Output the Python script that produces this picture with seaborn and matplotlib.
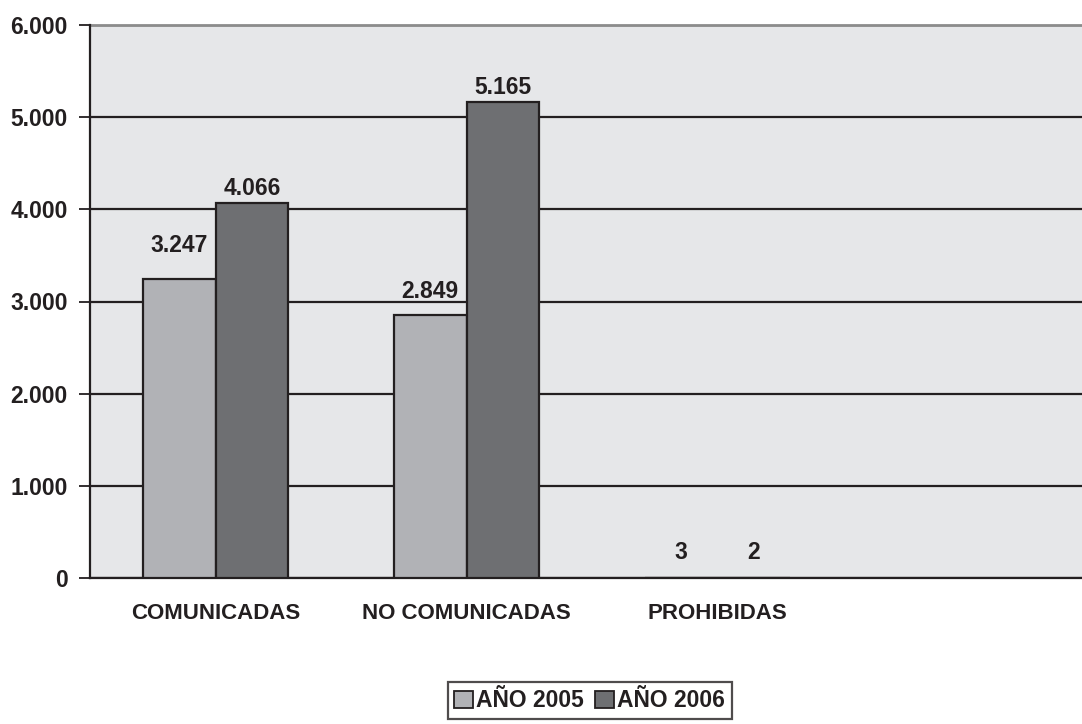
import numpy as np
import pandas as pd
import matplotlib
matplotlib.use("Agg")
import matplotlib.pyplot as plt
import matplotlib.ticker as mticker
import seaborn as sbn

# datos
categorias = ["COMUNICADAS", "NO COMUNICADAS", "PROHIBIDAS"]
anios = ["AÑO 2005", "AÑO 2006"]
valores_2005 = [3247, 2849, 3]
valores_2006 = [4066, 5165, 2]

df = pd.DataFrame({
    "categoria": categorias * 2,
    "anio": [anios[0]] * 3 + [anios[1]] * 3,
    "valor": valores_2005 + valores_2006,
})

colores = ["#b1b2b6", "#6e6f72"]

sbn.set_style("white")
plt.rcParams["font.family"] = ["Liberation Sans", "DejaVu Sans"]
plt.rcParams["font.weight"] = "bold"

fig = plt.figure(figsize=(10.82, 7.24), dpi=100)
ax = fig.add_axes([90 / 1082, 146 / 724, 1004 / 1082, 553 / 724])
ax.set_facecolor("#e6e7e9")

sbn.barplot(data=df, x="categoria", y="valor", hue="anio", order=categorias,
            hue_order=anios, palette=colores, width=0.58, saturation=1,
            edgecolor="#231f20", linewidth=1.6, ax=ax, zorder=3)

ax.set_xlim(-0.5, 3.5)
ax.set_ylim(0, 6000)
ax.yaxis.set_major_locator(mticker.MultipleLocator(1000))
ax.yaxis.set_major_formatter(mticker.FuncFormatter(lambda v, p: f"{int(v):,}".replace(",", ".")))
ax.grid(axis="y", color="#231f20", linewidth=1.6, zorder=1)
ax.set_axisbelow(True)

# etiquetas de valor
desplaz = [[22, 3], [12, 3], [14, 14]]
for j, cont in enumerate(ax.containers):
    for i, barra in enumerate(cont):
        v = barra.get_height()
        ax.annotate(f"{int(v):,}".replace(",", "."),
                    (barra.get_x() + barra.get_width() / 2, v),
                    xytext=(0, desplaz[i][j]), textcoords="offset pixels",
                    ha="center", va="bottom", fontsize=16.5, fontweight="bold",
                    color="#231f20", zorder=5)

# ejes
for s in ["top", "right"]:
    ax.spines[s].set_visible(False)
ax.spines["left"].set_color("#231f20")
ax.spines["left"].set_linewidth(1.6)
ax.spines["bottom"].set_color("#231f20")
ax.spines["bottom"].set_linewidth(1.6)
ax.axhline(6000, color="#8c8c8c", linewidth=2, zorder=2, clip_on=False)

ax.set_xticks(range(3))
ax.set_xticklabels(categorias)
ax.set_xticks(np.arange(-0.5, 4, 1), minor=True)
ax.tick_params(axis="x", which="major", length=0, pad=18, labelsize=16, labelcolor="#231f20")
ax.tick_params(axis="x", which="minor", length=8, width=1.3, color="#231f20", direction="out")
ax.tick_params(axis="y", length=8, width=1.3, color="#231f20", direction="out", pad=8,
               labelsize=16.5, labelcolor="#231f20", left=True)
for t in ax.get_xticklabels() + ax.get_yticklabels():
    t.set_fontweight("bold")
ax.set_xlabel("")
ax.set_ylabel("")

ax.legend_.remove()
handles = [plt.Rectangle((0, 0), 1, 1, facecolor=c, edgecolor="#231f20", linewidth=1.3) for c in colores]
leg = fig.legend(handles, anios, loc="center", bbox_to_anchor=(0.545, 0.032), ncol=2,
                 frameon=True, fancybox=False, handlelength=0.8, handleheight=0.8,
                 handletextpad=0.15, columnspacing=0.5, borderpad=0.3,
                 prop={"weight": "bold", "size": 16.5})
leg.get_frame().set_edgecolor("#231f20")
leg.get_frame().set_linewidth(1.6)
for t in leg.get_texts():
    t.set_color("#231f20")

fig.savefig("out.png", dpi=100)
